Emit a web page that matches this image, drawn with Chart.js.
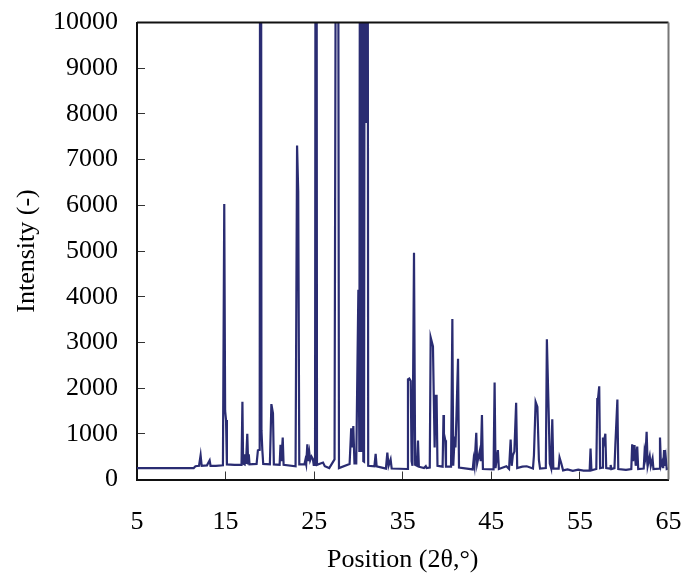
<!DOCTYPE html>
<html>
<head>
<meta charset="utf-8">
<script src="https://cdn.jsdelivr.net/npm/chart.js@4/dist/chart.umd.min.js"></script>
<style>
  html, body { margin: 0; padding: 0; background: #fff; }
  #wrap { width: 691px; height: 577px; }
</style>
</head>
<body>
<div id="wrap"><canvas id="chart" width="691" height="577"></canvas></div>
<script>
// XRD pattern (2θ in degrees, intensity in counts)
const twoTheta = [
  5.0, 11.4, 11.6, 12.0, 12.18, 12.3, 12.9, 13.2, 13.3, 13.9,
  14.7, 14.85, 14.95, 15.05, 15.15, 16.0, 16.8, 16.9, 16.98, 17.15,
  17.2, 17.3, 17.45, 17.55, 17.62, 17.7, 18.5, 18.65, 18.85, 18.95,
  19.05, 19.15, 19.25, 20.0, 20.17, 20.35, 20.45, 21.1, 21.2, 21.3,
  21.45, 21.55, 22.9, 23.07, 23.2, 23.32, 23.9, 24.0, 24.1, 24.23,
  24.32, 24.45, 24.55, 24.7, 24.85, 24.95, 25.1, 25.22, 25.32, 26.0,
  26.2, 26.7, 27.3, 27.55, 27.62, 27.68, 27.8, 29.0, 29.18, 29.3,
  29.42, 29.55, 29.75, 29.99, 30.1, 30.25, 30.32, 30.4, 30.55, 30.63,
  30.78, 30.83, 30.96, 30.99, 31.1, 31.8, 31.94, 32.05, 33.1, 33.26,
  33.4, 33.63, 33.75, 35.5, 35.59, 35.74, 35.9, 36.0, 36.1, 36.27,
  36.4, 36.6, 36.72, 36.82, 37.4, 37.6, 37.7, 38.05, 38.15, 38.41,
  38.5, 38.6, 38.7, 38.82, 38.92, 39.5, 39.6, 39.65, 39.8, 39.88,
  40.45, 40.6, 40.7, 40.86, 40.95, 41.05, 41.24, 41.35, 42.9, 43.0,
  43.1, 43.3, 43.4, 43.68, 43.8, 43.94, 44.05, 45.25, 45.37, 45.47,
  45.74, 45.85, 46.7, 47.0, 47.18, 47.3, 47.43, 47.6, 47.8, 47.92,
  48.5, 49.0, 49.7, 49.81, 50.0, 50.2, 50.37, 50.5, 51.15, 51.27,
  51.47, 51.6, 51.75, 51.88, 52.0, 52.6, 52.7, 52.9, 53.1, 53.6,
  54.2, 54.8, 55.4, 56.1, 56.2, 56.3, 56.85, 56.96, 57.05, 57.18,
  57.28, 57.5, 57.6, 57.7, 57.87, 57.97, 58.4, 58.47, 58.55, 58.9,
  59.0, 59.23, 59.33, 60.2, 60.8, 60.9, 61.0, 61.16, 61.3, 61.47,
  61.58, 62.2, 62.3, 62.4, 62.53, 62.65, 62.88, 63.0, 63.2, 63.3,
  63.95, 64.04, 64.15, 64.3, 64.4, 64.5, 64.6, 64.7, 64.8, 65.0
]
const intensity = [
  250, 250, 290, 300, 530, 300, 310, 420, 300, 300,
  310, 6030, 1500, 1300, 330, 320, 320, 1700, 350, 330,
  550, 340, 1000, 350, 550, 330, 340, 640, 650, 30000,
  1080, 640, 340, 330, 1650, 1450, 330, 320, 760, 400,
  920, 320, 290, 7310, 6300, 330, 330, 420, 330, 770,
  400, 590, 420, 500, 450, 320, 320, 30000, 320, 370,
  290, 250, 440, 22000, 14000, 18000, 250, 340, 1120, 700,
  1170, 350, 350, 4150, 600, 30000, 600, 30000, 400, 390,
  28000, 7800, 10200, 26000, 300, 290, 560, 290, 240, 590,
  300, 440, 240, 230, 2190, 2210, 2155, 400, 300, 4960,
  320, 300, 850, 280, 250, 290, 250, 260, 3110, 2910,
  1850, 700, 1830, 1830, 300, 280, 1410, 1000, 860, 280,
  280, 3510, 300, 940, 700, 1300, 2640, 260, 220, 430,
  300, 1020, 350, 610, 400, 1410, 230, 220, 2120, 250,
  645, 230, 290, 230, 875, 300, 530, 610, 1680, 250,
  280, 290, 240, 530, 1700, 1590, 430, 240, 250, 3070,
  1490, 350, 250, 1320, 240, 240, 480, 350, 200, 220,
  190, 215, 195, 200, 680, 200, 230, 1770, 1780, 2040,
  250, 260, 920, 800, 1000, 250, 240, 320, 230, 250,
  755, 1750, 230, 210, 230, 770, 400, 755, 300, 720,
  230, 240, 610, 500, 1046, 300, 510, 300, 460, 230,
  240, 920, 300, 390, 250, 645, 300, 460, 230, 240
]
const xTicks = [5, 15, 25, 35, 45, 55, 65]
const yTicks = [0, 1000, 2000, 3000, 4000, 5000, 6000, 7000, 8000, 9000, 10000]

const points = twoTheta.map((t, i) => ({ x: t, y: intensity[i] }))
const serif = 'Liberation Serif, Times New Roman, serif'

const frame = {
  id: 'frame',
  afterDatasetsDraw(chart) {
    const { ctx, chartArea: a } = chart
    ctx.save()
    ctx.lineWidth = 2
    ctx.strokeStyle = '#111'
    ctx.beginPath()
    ctx.moveTo(a.left, a.top)
    ctx.lineTo(a.right, a.top)
    ctx.stroke()
    ctx.strokeStyle = '#777'
    ctx.beginPath()
    ctx.moveTo(a.right, a.top)
    ctx.lineTo(a.right, a.bottom)
    ctx.stroke()
    ctx.restore()
  }
}

new Chart('chart', {
  type: 'line',
  data: {
    datasets: [{
      data: points,
      borderColor: '#2a2c72',
      borderWidth: 2.2,
      pointRadius: 0,
      tension: 0,
      fill: false
    }]
  },
  options: {
    responsive: false,
    animation: false,
    layout: { padding: { left: 0, right: 22.5, top: 22.5, bottom: 0 } },
    plugins: { legend: { display: false }, tooltip: { enabled: false } },
    scales: {
      x: {
        type: 'linear',
        min: 5,
        max: 65,
        afterBuildTicks: s => { s.ticks = xTicks.map(v => ({ value: v })) },
        afterFit: s => {
          s.height = 97.5
          s.paddingLeft = 0
          s.paddingRight = 0
        },
        grid: { drawOnChartArea: false, tickLength: -8, color: '#333' },
        border: { color: '#111', width: 2 },
        ticks: {
          color: '#000',
          padding: 35,
          font: { family: serif, size: 26 },
          callback: v => String(v)
        },
        title: {
          display: true,
          text: 'Position (2θ,°)',
          color: '#000',
          padding: { top: 0, bottom: 1 },
          font: { family: serif, size: 26 }
        }
      },
      y: {
        min: 0,
        max: 10000,
        afterBuildTicks: s => { s.ticks = yTicks.map(v => ({ value: v })) },
        afterFit: s => {
          s.width = 137
          s.paddingTop = 0
          s.paddingBottom = 0
        },
        grid: { drawOnChartArea: false, tickLength: -8, color: '#333' },
        border: { color: '#111', width: 2 },
        ticks: {
          color: '#000',
          padding: 27,
          font: { family: serif, size: 26 },
          callback: v => String(v)
        },
        title: {
          display: true,
          text: 'Intensity (-)',
          color: '#000',
          padding: { top: 12, bottom: 0 },
          font: { family: serif, size: 26 }
        }
      }
    }
  },
  plugins: [frame]
})
</script>
</body>
</html>
